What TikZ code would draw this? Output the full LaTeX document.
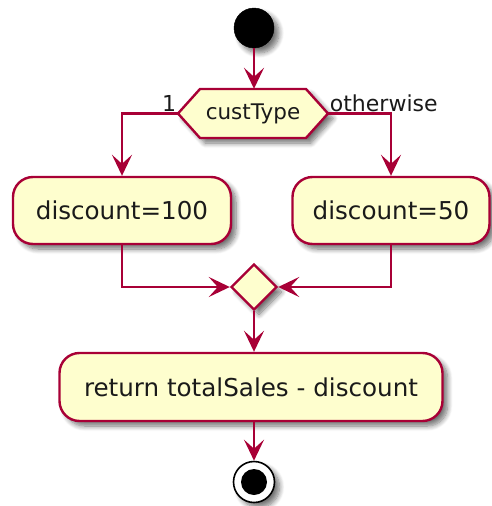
\documentclass[tikz,border=0pt]{standalone}
\usepackage{fontspec}
\setmainfont{DejaVu Sans}
\usetikzlibrary{shapes.geometric,shadows.blur,arrows.meta}
\definecolor{umlborder}{HTML}{A80036}
\definecolor{umlfill}{HTML}{FEFECE}
\definecolor{umltext}{HTML}{1A1A1A}
\tikzset{
  shad/.style={blur shadow={shadow xshift=5pt,shadow yshift=-5pt,shadow blur radius=5pt,shadow blur steps=8,shadow opacity=55}},
  actbox/.style={shape=rectangle,rounded corners=20pt,draw=umlborder,fill=umlfill,line width=2.4pt,
    inner sep=0pt,minimum height=67pt,text=umltext,font=\fontsize{24.6}{28}\selectfont,shad},
  hexshape/.style={draw=umlborder,fill=umlfill,line width=2.4pt,shad},
  mergebox/.style={shape=diamond,draw=umlborder,fill=umlfill,line width=2.4pt,inner sep=0pt,
    minimum width=46pt,minimum height=46pt,shad},
  flow/.style={draw=umlborder,line width=2.4pt,-{Stealth[length=21pt,width=20pt,inset=9pt]}},
  lbl/.style={text=umltext,font=\fontsize{22}{26}\selectfont,inner sep=1.5pt},
}
\begin{document}
\begin{tikzpicture}[x=1pt,y=-1pt]
\useasboundingbox (0,0) rectangle (491,506);
% start
\node[circle,fill=black,draw=black,minimum size=40pt,inner sep=0pt,shad] (start) at (254,28) {};
% decision hexagon
\path[hexshape] (178,113.5) -- (200,89) -- (306,89) -- (328,113.5) -- (306,138) -- (200,138) -- cycle;
\node[minimum width=150pt,minimum height=49pt,inner sep=0pt,text=umltext,font=\fontsize{21.5}{25}\selectfont] (hex) at (253,113.5) {custType};
% actions
\node[actbox,minimum width=218pt] (b1) at (122,210.5) {discount=100};
\node[actbox,minimum width=197pt] (b2) at (391,210.5) {discount=50};
\node[mergebox] (merge) at (254,287) {};
\node[actbox,minimum width=383pt,minimum height=68pt] (b3) at (251,387) {return totalSales - discount};
% stop
\node[circle,draw=black,fill=white,line width=1.6pt,minimum size=41pt,inner sep=0pt,shad] (stop) at (254,482) {};
\node[circle,fill=black,minimum size=26pt,inner sep=0pt] (stopin) at (stop.center) {};
% flows
\draw[flow] (start) -- (start |- hex.north);
\draw[flow] (hex.west) -| (b1.north);
\draw[flow] (hex.east) -| (b2.north);
\draw[flow] (b1.south) |- (merge.west);
\draw[flow] (b2.south) |- (merge.east);
\draw[flow] (merge.south) -- (merge.south |- b3.north);
\draw[flow] (stop.north |- b3.south) -- (stop.north);
% labels
\node[lbl,anchor=south east] (l1) at (hex.west) {1};
\node[lbl,anchor=south west] (l2) at (hex.east) {otherwise};
\end{tikzpicture}
\end{document}
